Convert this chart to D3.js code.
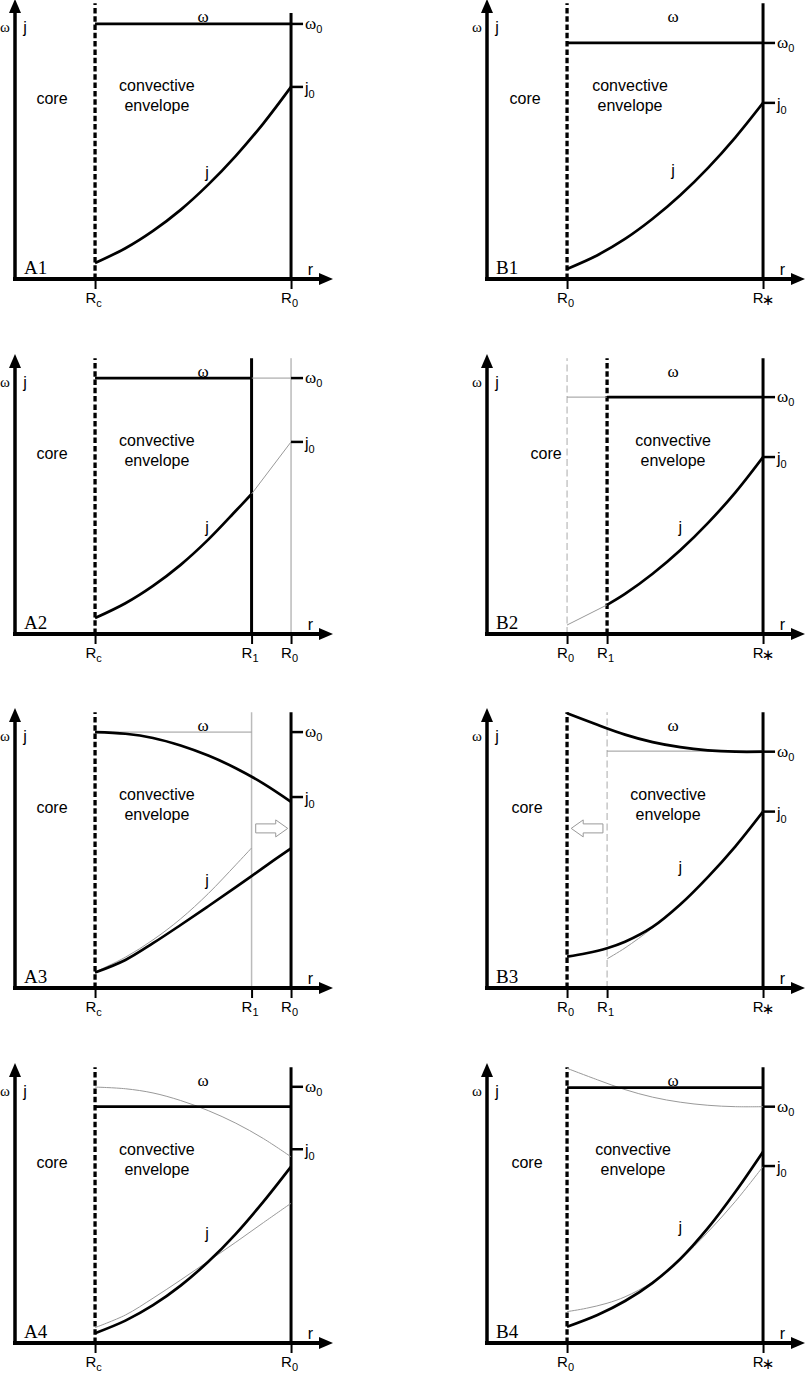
<!doctype html>
<html>
<head>
<meta charset="utf-8"/>
<title>core / convective envelope sketches</title>
<script src="https://cdnjs.cloudflare.com/ajax/libs/d3/7.8.5/d3.min.js"></script>
<style>
  body { margin: 0; background: #fff; }
  text { font-family: "Liberation Sans", Arial, sans-serif; fill: #000; }
</style>
</head>
<body>
<svg id="chart" width="807" height="1378"></svg>
<script>
// ---- data (r in units of the outer radius, values as fraction of axis height) ----
var panelNames = ["A1", "B1", "A2", "B2", "A3", "B3", "A4", "B4"];

var radiiA1 = [["R", "c", 0.29], ["R", "0", 1]];
var radiiA2 = [["R", "c", 0.29], ["R", "1", 0.857], ["R", "0", 1]];
var radiiB1 = [["R", "0", 0.29], ["R", "*", 1]];
var radiiB2 = [["R", "0", 0.29], ["R", "1", 0.435], ["R", "*", 1]];

var omega0 = [0.911, 0.843, 0.914, 0.846, 0.914, 0.844, 0.915, 0.844];
var j0 = [0.686, 0.629, 0.686, 0.632, 0.682, 0.630, 0.692, 0.632];

// omega profiles
var wA1 = [[0.29, 0.911], [1, 0.911]];
var wB1 = [[0.29, 0.843], [1, 0.843]];
var wA2 = [[0.29, 0.914], [0.857, 0.914]];
var wA2out = [[0.857, 0.914], [1, 0.914]];
var wB2 = [[0.435, 0.846], [1, 0.846]];
var wB2in = [[0.29, 0.846], [0.435, 0.846]];
var wA3 = [[0.29, 0.914], [0.4, 0.908], [0.5, 0.893], [0.6, 0.866], [0.7, 0.830], [0.8, 0.785], [0.9, 0.730], [1, 0.665]];
var wB3 = [[0.29, 0.981], [0.4, 0.940], [0.5, 0.905], [0.6, 0.878], [0.7, 0.860], [0.8, 0.849], [0.9, 0.844], [1, 0.844]];
var wA4 = [[0.29, 0.844], [1, 0.844]];
var wB4 = [[0.29, 0.912], [1, 0.912]];

// j profiles
var jA1 = [[0.29, 0.057], [0.4, 0.110], [0.5, 0.172], [0.6, 0.247], [0.7, 0.337], [0.8, 0.440], [0.9, 0.556], [1, 0.686]];
var jB1 = [[0.29, 0.036], [0.4, 0.085], [0.5, 0.143], [0.6, 0.215], [0.7, 0.299], [0.8, 0.396], [0.9, 0.506], [1, 0.629]];
var jA2 = [[0.29, 0.057], [0.4, 0.110], [0.5, 0.172], [0.6, 0.247], [0.7, 0.337], [0.8, 0.440], [0.857, 0.50]];
var jA2out = [[0.857, 0.50], [1, 0.686]];
var jB2 = [[0.435, 0.104], [0.5, 0.143], [0.6, 0.215], [0.7, 0.299], [0.8, 0.396], [0.9, 0.506], [1, 0.632]];
var jB2in = [[0.29, 0.032], [0.435, 0.104]];
var jA3 = [[0.29, 0.055], [0.4, 0.100], [0.5, 0.160], [0.6, 0.225], [0.7, 0.292], [0.8, 0.360], [0.9, 0.430], [1, 0.499]];
var jB3 = [[0.29, 0.112], [0.36, 0.124], [0.435, 0.142], [0.5, 0.165], [0.6, 0.218], [0.7, 0.298], [0.8, 0.396], [0.9, 0.506], [1, 0.630]];
var jA4 = [[0.29, 0.035], [0.4, 0.080], [0.5, 0.135], [0.6, 0.205], [0.7, 0.290], [0.8, 0.390], [0.9, 0.505], [1, 0.630]];
var jB4 = [[0.29, 0.058], [0.4, 0.100], [0.5, 0.150], [0.6, 0.215], [0.7, 0.300], [0.8, 0.410], [0.9, 0.540], [1, 0.683]];

// hollow "drift" arrows: [from r, to r, level]
var arrowA3 = [0.872, 0.988, 0.57];
var arrowB3 = [0.42, 0.305, 0.57];

// ---- panel table ----
var panels = [
  { radii: radiiA1, walls: [[0.29, "dash"], [1, "solid", 0.95]], thin: [], thick: [wA1, jA1] },
  { radii: radiiB1, walls: [[0.29, "dash"], [1, "solid"]], thin: [], thick: [wB1, jB1] },
  { radii: radiiA2, walls: [[0.29, "dash"], [0.857, "solid"], [1, "gray"]], thin: [wA2out, jA2out], thick: [wA2, jA2] },
  { radii: radiiB2, walls: [[0.29, "graydash"], [0.435, "dash"], [1, "solid"]], thin: [wB2in, jB2in], thick: [wB2, jB2] },
  { radii: radiiA2, walls: [[0.29, "dash"], [0.857, "light"], [1, "solid"]], thin: [wA2, jA2], thick: [wA3, jA3], arrow: arrowA3 },
  { radii: radiiB2, walls: [[0.29, "dash"], [0.435, "graydash"], [1, "solid"]], thin: [wB2, jB2], thick: [wB3, jB3], arrow: arrowB3 },
  { radii: radiiA1, walls: [[0.29, "dash"], [1, "solid"]], thin: [wA3, jA3], thick: [wA4, jA4] },
  { radii: radiiB1, walls: [[0.29, "dash"], [1, "solid"]], thin: [wB3, jB3], thick: [wB4, jB4] }
];

// ---- layout ----
var colX = [15, 487];
var rowY = [279, 634, 988, 1343];
var coreX = [0.134, 0.138, 0.134, 0.214, 0.134, 0.145, 0.134, 0.145];
var envX = [0.514, 0.518, 0.514, 0.674, 0.514, 0.656, 0.514, 0.529];
var jLab = [[0.696, 0.382], [0.674, 0.389], [0.696, 0.382], [0.70, 0.382], [0.696, 0.386], [0.70, 0.429], [0.696, 0.393], [0.70, 0.414]];
var wLabX = [0.681, 0.674];

var serif = '"Liberation Serif", "Times New Roman", serif';

var svg = d3.select("#chart");
var x = d3.scaleLinear().domain([0, 1.152]).range([0, 318]);
var y = d3.scaleLinear().domain([0, 1]).range([0, -280]);
var line = d3.line().x(function(d) { return x(d[0]); }).y(function(d) { return y(d[1]); })
  .curve(d3.curveCatmullRom.alpha(0.5));

var wallStyle = {
  dash: { stroke: "#000", width: 3.3, dash: "5.5,2.8" },
  solid: { stroke: "#000", width: 3, dash: null },
  gray: { stroke: "#999", width: 1, dash: null },
  light: { stroke: "#bbb", width: 1.5, dash: null },
  graydash: { stroke: "#aaa", width: 1, dash: "7,3.5" }
};

function subText(g, px, py, main, sub, opts) {
  var t = g.append("text").attr("x", px).attr("y", py)
    .attr("text-anchor", opts.anchor || "start")
    .style("font-family", '"Liberation Sans", Arial, sans-serif').style("fill", "#000");
  var m = t.append("tspan").attr("font-size", opts.size).text(main);
  if (opts.serif) m.style("font-family", serif);
  var s = t.append("tspan").attr("font-size", opts.subSize).attr("dy", opts.subDy || 4).text(sub);
  if (sub === "\u2217") s.attr("dx", -2).style("font-family", '"DejaVu Sans", sans-serif');
  return t;
}

panels.forEach(function(p, i) {
  var g = svg.append("g")
    .attr("transform", "translate(" + colX[i % 2] + "," + rowY[Math.floor(i / 2)] + ")");

  // boundaries
  p.walls.forEach(function(w) {
    var s = wallStyle[w[1]];
    g.append("line")
      .attr("x1", x(w[0])).attr("x2", x(w[0]))
      .attr("y1", y(0)).attr("y2", y(w[2] || 0.985))
      .attr("stroke", s.stroke).attr("stroke-width", s.width)
      .attr("stroke-dasharray", s.dash);
  });

  // previous-state profiles (thin gray)
  g.selectAll(".thin").data(p.thin).enter().append("path")
    .attr("d", line).attr("fill", "none").attr("stroke", "#999").attr("stroke-width", 1);

  // current profiles
  g.selectAll(".thick").data(p.thick).enter().append("path")
    .attr("d", line).attr("fill", "none").attr("stroke", "#000").attr("stroke-width", 2.7);

  // omega0 / j0 markers
  [omega0[i], j0[i]].forEach(function(v) {
    g.append("line").attr("x1", x(1)).attr("x2", x(1) + 12)
      .attr("y1", y(v)).attr("y2", y(v))
      .attr("stroke", "#000").attr("stroke-width", 2.5);
  });
  subText(g, x(1) + 14, y(omega0[i]) + 5, "\u03c9", "0", { size: 17, subSize: 11, serif: true });
  subText(g, x(1) + 14, y(j0[i]) + 7, "j", "0", { size: 16, subSize: 11 });

  // hollow arrow
  if (p.arrow) {
    var a = p.arrow, dir = a[1] > a[0] ? 1 : -1;
    var x0 = x(a[0]), x1 = x(a[1]), cy = y(a[2]), hx = x1 - dir * 12;
    var pts = [[x0, cy - 4.5], [hx, cy - 4.5], [hx, cy - 8.5], [x1, cy], [hx, cy + 8.5], [hx, cy + 4.5], [x0, cy + 4.5]];
    g.append("path").attr("d", d3.line()(pts) + "Z")
      .attr("fill", "#fff").attr("stroke", "#999").attr("stroke-width", 1);
  }

  // x axis
  var labels = new Map(p.radii.map(function(d) { return [d[2], d]; }));
  var gx = g.append("g").call(d3.axisBottom(x)
    .tickValues(p.radii.map(function(d) { return d[2]; }))
    .tickSize(10).tickSizeOuter(0).tickFormat(""));
  gx.select(".domain").attr("d", "M-2,0H" + (x(1.152) - 12)).attr("stroke-width", 4);
  gx.selectAll(".tick line").attr("stroke-width", 2).attr("y1", 2);
  gx.selectAll(".tick text").remove();
  gx.selectAll(".tick").each(function(d) {
    var lab = labels.get(d);
    var star = lab[1] === "*";
    subText(d3.select(this), star ? 0 : -2, 24, lab[0], star ? "\u2217" : lab[1],
      { size: 15, subSize: star ? 15 : 11, subDy: star ? 2 : 4, anchor: "middle" });
  });
  g.append("path")
    .attr("d", d3.line()([[x(1.152), 0], [x(1.152) - 14, -6], [x(1.152) - 14, 6]]) + "Z")
    .attr("fill", "#000");

  // y axis
  var gy = g.append("g").call(d3.axisLeft(y).tickValues([]).tickSizeOuter(0));
  gy.select(".domain").attr("d", "M0,2V" + (y(1) + 12)).attr("stroke-width", 3.5);
  g.append("path")
    .attr("d", d3.line()([[0, y(1)], [-6, y(1) + 14], [6, y(1) + 14]]) + "Z")
    .attr("fill", "#000");

  // labels
  g.append("text").attr("x", -10).attr("y", y(0.9)).attr("dy", "0.3em")
    .attr("text-anchor", "middle").style("font-family", serif).attr("font-size", 15).text("\u03c9");
  g.append("text").attr("x", 10).attr("y", y(0.9)).attr("dy", "0.35em")
    .attr("text-anchor", "middle").attr("font-size", 16).text("j");
  g.append("text").attr("x", x(1.07)).attr("y", y(0.036)).attr("dy", "0.35em")
    .attr("text-anchor", "middle").attr("font-size", 16).text("r");
  g.append("text").attr("x", 9).attr("y", y(0.04)).attr("dy", "0.35em")
    .style("font-family", serif).attr("font-size", 19).text(panelNames[i]);
  g.append("text").attr("x", x(wLabX[i % 2])).attr("y", y(0.936)).attr("dy", "0.3em")
    .attr("text-anchor", "middle").style("font-family", serif).attr("font-size", 17).text("\u03c9");
  g.append("text").attr("x", x(coreX[i])).attr("y", y(0.645)).attr("dy", "0.35em")
    .attr("text-anchor", "middle").attr("font-size", 16).text("core");
  g.append("text").attr("x", x(envX[i])).attr("y", y(0.69)).attr("dy", "0.35em")
    .attr("text-anchor", "middle").attr("font-size", 16).text("convective");
  g.append("text").attr("x", x(envX[i])).attr("y", y(0.62)).attr("dy", "0.35em")
    .attr("text-anchor", "middle").attr("font-size", 16).text("envelope");
  g.append("text").attr("x", x(jLab[i][0])).attr("y", y(jLab[i][1])).attr("dy", "0.35em")
    .attr("text-anchor", "middle").attr("font-size", 16).text("j");
});
</script>
</body>
</html>
